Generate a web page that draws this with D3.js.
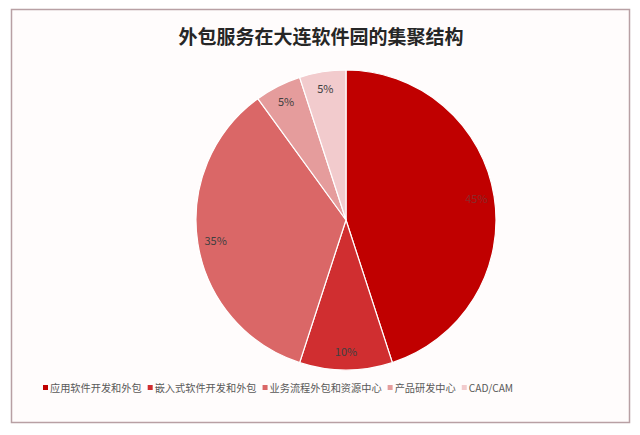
<!DOCTYPE html>
<html><head><meta charset="utf-8">
<script src="https://cdn.jsdelivr.net/npm/d3@7"></script>
<style>html,body{margin:0;padding:0;background:#fff;}svg{display:block;}</style>
</head><body>
<svg id="c" width="640" height="435"></svg>
<script>
const title = "外包服务在大连软件园的集聚结构";
const categories = ["应用软件开发和外包","嵌入式软件开发和外包","业务流程外包和资源中心","产品研发中心","CAD/CAM"];
const values = [45, 10, 35, 5, 5];
const colors = ["#C00000","#D02E30","#DA6767","#E59C9C","#F2CBCD"];

const svg = d3.select("#c");
const font = "'Noto Sans CJK SC','Microsoft YaHei',sans-serif";
svg.append("rect").attr("x",11.5).attr("y",9.5).attr("width",618).attr("height",413)
  .attr("fill","#FFFCFC").attr("stroke","#B8A0A4").attr("stroke-width",1.5);

svg.append("text").attr("x",321).attr("y",44).attr("text-anchor","middle")
  .attr("font-family",font).attr("font-size",19).attr("font-weight","bold").attr("fill","#262626").text(title);

const cx = 346, cy = 220, R = 150;
const pie = d3.pie().sort(null).value(d=>d)(values);
const arc = d3.arc().innerRadius(0).outerRadius(R);
const labelArc = d3.arc().innerRadius(R*0.88).outerRadius(R*0.88);
const g = svg.append("g").attr("transform",`translate(${cx},${cy})`);
g.selectAll("path").data(pie).join("path").attr("d",arc)
  .attr("fill",(d,i)=>colors[i]).attr("stroke","#fff").attr("stroke-width",1.2);
g.selectAll("text").data(pie).join("text")
  .attr("transform",d=>`translate(${labelArc.centroid(d)})`)
  .attr("text-anchor","middle").attr("dy","0.35em")
  .attr("font-family",font).attr("font-size",11).attr("fill",(d,i)=>i===0?"#8a2a2a":"#404040")
  .text(d=>d.data+"%");

// legend
const lg = svg.append("g").attr("transform","translate(0,388)");
let x = 43;
categories.forEach((c,i)=>{
  lg.append("rect").attr("x",x).attr("y",-3).attr("width",5).attr("height",5).attr("fill",colors[i]);
  const t = lg.append("text").attr("x",x+7).attr("y",0).attr("dy","0.35em")
    .attr("font-family",font).attr("font-size",10.2).attr("fill","#595959").text(c);
  x += 7 + t.node().getComputedTextLength() + 6;
});
</script>
</body></html>
